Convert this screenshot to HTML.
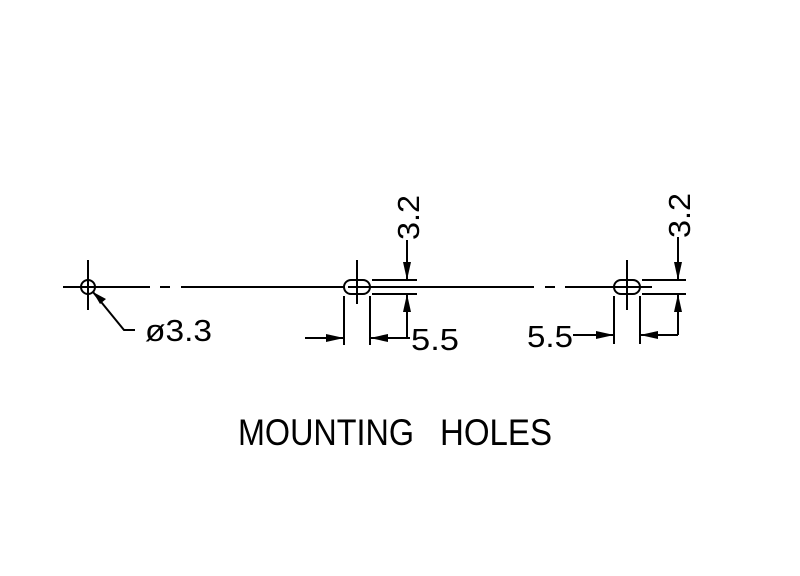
<!DOCTYPE html>
<html><head><style>html,body{margin:0;padding:0;background:#fff}svg{display:block}</style></head>
<body>
<svg width="800" height="576" viewBox="0 0 800 576" xmlns="http://www.w3.org/2000/svg">
<g stroke="#000" stroke-width="2" fill="none">
<circle cx="88" cy="287" r="7"/>
<line x1="88" y1="260" x2="88" y2="310"/>
<line x1="63" y1="287" x2="150" y2="287"/>
<line x1="160" y1="287" x2="170" y2="287"/>
<line x1="181" y1="287" x2="345" y2="287"/>
<polyline points="93,292 124,330 135,330"/>
<rect x="344" y="280" width="26" height="14" rx="7"/>
<line x1="357" y1="260" x2="357" y2="304"/>
<line x1="348" y1="287" x2="534" y2="287"/>
<line x1="372" y1="280" x2="417" y2="280"/>
<line x1="372" y1="294" x2="417" y2="294"/>
<line x1="407" y1="240" x2="407" y2="280"/>
<line x1="407" y1="294" x2="407" y2="338"/>
<line x1="344" y1="296" x2="344" y2="345"/>
<line x1="370" y1="296" x2="370" y2="345"/>
<line x1="305" y1="338" x2="344" y2="338"/>
<line x1="370" y1="338" x2="410" y2="338"/>
<line x1="545" y1="287" x2="555" y2="287"/>
<line x1="565" y1="287" x2="614" y2="287"/>
<rect x="614" y="280" width="26" height="14" rx="7"/>
<line x1="627" y1="260" x2="627" y2="310"/>
<line x1="614" y1="287" x2="652" y2="287"/>
<line x1="642" y1="280" x2="686" y2="280"/>
<line x1="642" y1="294" x2="686" y2="294"/>
<line x1="678" y1="237" x2="678" y2="280"/>
<line x1="678" y1="294" x2="678" y2="335"/>
<line x1="614" y1="296" x2="614" y2="344"/>
<line x1="640" y1="296" x2="640" y2="344"/>
<line x1="573" y1="335" x2="614" y2="335"/>
<line x1="640" y1="335" x2="678" y2="335"/>
</g>
<g fill="#000">
<polygon points="93,292 106,299 100,304"/>
<polygon points="407,280 403,262 411,262"/>
<polygon points="407,294 403,312 411,312"/>
<polygon points="344,338 326,334 326,342"/>
<polygon points="370,338 388,334 388,342"/>
<polygon points="678,280 674,262 682,262"/>
<polygon points="678,294 674,312 682,312"/>
<polygon points="614,335 596,331 596,339"/>
<polygon points="640,335 658,331 658,339"/>
</g>
<g font-family="Liberation Sans, sans-serif" fill="#000" font-size="31">
<text x="145" y="341" textLength="67" lengthAdjust="spacingAndGlyphs">ø3.3</text>
<text x="411" y="350" textLength="48" lengthAdjust="spacingAndGlyphs">5.5</text>
<text x="527" y="347" textLength="46" lengthAdjust="spacingAndGlyphs">5.5</text>
<text transform="translate(419,240) rotate(-90)" textLength="45" lengthAdjust="spacingAndGlyphs">3.2</text>
<text transform="translate(690,238) rotate(-90)" textLength="45" lengthAdjust="spacingAndGlyphs">3.2</text>
<text x="238" y="445" font-size="37" textLength="176" lengthAdjust="spacingAndGlyphs">MOUNTING</text>
<text x="440" y="445" font-size="37" textLength="112" lengthAdjust="spacingAndGlyphs">HOLES</text>
</g>
</svg>
</body></html>
